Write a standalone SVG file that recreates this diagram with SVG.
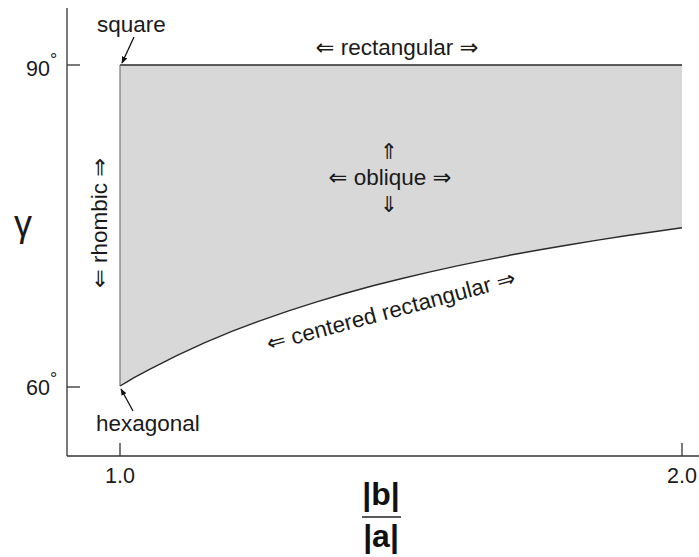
<svg xmlns="http://www.w3.org/2000/svg" width="699" height="557" viewBox="0 0 699 557">
<style>
.t{font-family:"Liberation Sans","DejaVu Sans",Arial,sans-serif;font-size:22.5px;fill:#1a1a1a}
.n{font-family:"Liberation Sans",Arial,sans-serif;font-size:21.5px;fill:#1a1a1a}
.ax{stroke:#333;stroke-width:1.3;fill:none}
.ed{stroke:#2a2a2a;stroke-width:1.4;fill:none}
.frac{font-family:"Liberation Sans",Arial,sans-serif;font-size:32px;font-weight:bold;fill:#111}
</style>
<defs>
<marker id="ah" viewBox="0 0 10 10" refX="9" refY="5" markerWidth="7" markerHeight="7" orient="auto" markerUnits="userSpaceOnUse">
<path d="M0,1 L10,5 L0,9 Z" fill="#111"/>
</marker>
</defs>
<rect width="699" height="557" fill="#ffffff"/>

<g id="region">
<path d="M120,65 L682,65 L682,227.8 L653.9,231.7 L625.8,235.8 L597.7,240.1 L569.6,244.7 L541.5,249.5 L513.4,254.5 L485.3,260.1 L457.2,265.9 L429.1,272.1 L401,278.7 L372.9,285.8 L344.8,293.5 L316.7,301.8 L288.6,310.8 L260.5,320.6 L232.4,331.2 L204.3,342.9 L176.2,355.8 L148.1,370.1 L141.1,373.9 L134.05,377.7 L127,381.8 L120,386 Z" fill="#d8d8d8"/>
<line x1="120" y1="65" x2="682" y2="65" class="ed"/>
<line x1="120" y1="65" x2="120" y2="386" stroke="#777" stroke-width="1.2"/>
<path d="M120,386 L127,381.8 L134.05,377.7 L141.1,373.9 L148.1,370.1 L176.2,355.8 L204.3,342.9 L232.4,331.2 L260.5,320.6 L288.6,310.8 L316.7,301.8 L344.8,293.5 L372.9,285.8 L401,278.7 L429.1,272.1 L457.2,265.9 L485.3,260.1 L513.4,254.5 L541.5,249.5 L569.6,244.7 L597.7,240.1 L625.8,235.8 L653.9,231.7 L682,227.8" class="ed" stroke-linejoin="round"/>
</g>

<g id="axes">
<line x1="67" y1="8" x2="67" y2="456" class="ax"/>
<line x1="67" y1="456" x2="699" y2="456" class="ax"/>
<line x1="67" y1="65" x2="80" y2="65" class="ax"/>
<line x1="67" y1="387" x2="80" y2="387" class="ax"/>
<line x1="120" y1="443" x2="120" y2="456" class="ax"/>
<line x1="682" y1="443" x2="682" y2="456" class="ax"/>
<text class="n" x="26" y="76">90<tspan dy="-10" style="font-size:18px">°</tspan></text>
<text class="n" x="26" y="395">60<tspan dy="-10" style="font-size:18px">°</tspan></text>
<text class="n" x="120" y="483" text-anchor="middle">1.0</text>
<text class="n" x="682" y="483" text-anchor="middle">2.0</text>
<text class="n" x="23" y="236" text-anchor="middle" style="font-size:36px">γ</text>
<text class="frac" x="381" y="505" text-anchor="middle">|b|</text>
<line x1="362" y1="517" x2="401" y2="517" stroke="#222" stroke-width="1.5"/>
<text class="frac" x="381" y="547" text-anchor="middle">|a|</text>
</g>

<g id="connectors">
<line x1="134" y1="37" x2="122" y2="63" stroke="#111" stroke-width="1.3" marker-end="url(#ah)"/>
<line x1="133" y1="411" x2="121" y2="389" stroke="#111" stroke-width="1.3" marker-end="url(#ah)"/>
</g>

<g id="square"><text class="t" x="97" y="32">square</text></g>
<g id="hexagonal"><text class="t" x="96" y="431">hexagonal</text></g>
<g id="rectangular"><text class="t" x="397" y="55" text-anchor="middle">⇐ rectangular ⇒</text></g>
<g id="oblique">
<text class="t" x="390" y="185" text-anchor="middle">⇐ oblique ⇒</text>
<text class="t" x="389" y="159" text-anchor="middle" style="font-size:22px">⇑</text>
<text class="t" x="389" y="212" text-anchor="middle" style="font-size:22px">⇓</text>
</g>
<g id="rhombic"><text class="t" transform="translate(107,223) rotate(-90)" text-anchor="middle">⇐ rhombic ⇒</text></g>
<g id="centered"><text class="t" transform="translate(393,318) rotate(-15)" text-anchor="middle">⇐ centered rectangular ⇒</text></g>
</svg>
